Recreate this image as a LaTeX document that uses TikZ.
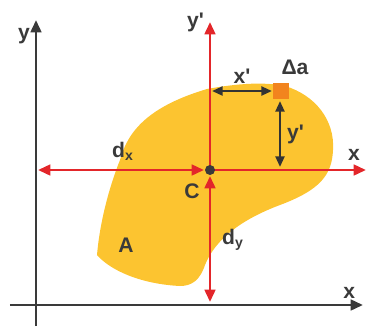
\documentclass[tikz,border=0pt]{standalone}
\usepackage{fontspec}
\setmainfont{Liberation Sans}
\usepackage{xcolor}
\usetikzlibrary{arrows.meta,calc}

\definecolor{blobyellow}{HTML}{FCC430}
\definecolor{axisred}{HTML}{E3262A}
\definecolor{squareorange}{HTML}{F2841E}
\definecolor{axisgray}{HTML}{3A3A3A}

\begin{document}
\begin{tikzpicture}[x=0.02cm,y=-0.02cm,font=\bfseries\large,
    axis/.style={axisgray,line width=1.6pt,-{Triangle[length=7pt,width=6pt]}},
    redaxis/.style={axisred,line width=1.6pt},
    dimarrow/.style={black!80,line width=1.4pt,{Triangle[length=6pt,width=5pt]}-{Triangle[length=6pt,width=5pt]}}]
    \useasboundingbox (0,0) rectangle (366,326);

    % Area of the shape
    \fill [blobyellow] (207,89) .. controls (240,83) and (265,82) .. (285,86)
      .. controls (315,95) and (335,120) .. (333,150)
      .. controls (332,175) and (320,190) .. (280,205)
      .. controls (240,220) and (215,240) .. (205,265)
      .. controls (200,280) and (192,286) .. (180,286)
      .. controls (140,284) and (110,270) .. (97,255)
      .. controls (100,220) and (110,185) .. (120,160)
      .. controls (128,130) and (150,106) .. (207,89) -- cycle;

    % Reference axes
    \coordinate [label={[text=axisgray,yshift=-9pt]left:y}] (ytop) at (36,20);
    \coordinate (ybot) at (36,326);
    \coordinate [label={[text=axisgray,xshift=-1pt]above left:x}] (xright) at (363,305);
    \coordinate (xleft) at (10,305);
    \draw [axis] (ybot) -- (ytop);
    \draw [axis] (xleft) -- (xright);

    % Centroidal axes
    \coordinate (centroid) at (210,170);
    \coordinate [label={[text=axisgray]left:y\textquotesingle}] (yptop) at (210,22);
    \coordinate [label={[text=axisgray,yshift=2pt]above left:x}] (xpright) at (366,170);
    \coordinate (ypbot) at (210,302);
    \coordinate (xpleft) at (38,170);
    \draw [redaxis,-{Triangle[length=7pt,width=6pt]}] (centroid) -- (yptop);
    \draw [redaxis,-{Triangle[length=7pt,width=6pt]}] (centroid) -- (xpright);
    \draw [redaxis,{Triangle[length=7pt,width=6pt]}-{Triangle[length=7pt,width=6pt]}] (xpleft) -- ($(centroid)+(-6,0)$);
    \draw [redaxis,{Triangle[length=7pt,width=6pt]}-{Triangle[length=7pt,width=6pt]}] ($(centroid)+(0,6)$) -- (ypbot);
    \fill [axisgray] (centroid) circle (5);
    \node [axisgray] (clabel) at (192,191) {C};
    \node [axisgray] (dxlabel) at (123,151) {d\textsubscript{x}};
    \node [axisgray] (dylabel) at (233,240) {d\textsubscript{y}};
    \node [axisgray] (alabel) at (126,245) {A};

    % Element of area
    \coordinate (elem) at (281,91);
    \fill [squareorange] ($(elem)+(-8,-8)$) rectangle ($(elem)+(8,8)$);
    \node [axisgray] (dalabel) at (295,67) {Δa};
    \coordinate (xpstart) at (212,91);
    \coordinate (xpend) at (272,91);
    \draw [dimarrow] (xpstart) -- (xpend) node [midway,above,text=axisgray] {x\textquotesingle};
    \coordinate (ypstart) at (280,101);
    \coordinate (ypend) at (280,167);
    \draw [dimarrow] (ypstart) -- (ypend) node [midway,right,text=axisgray] {y\textquotesingle};
\end{tikzpicture}
\end{document}
